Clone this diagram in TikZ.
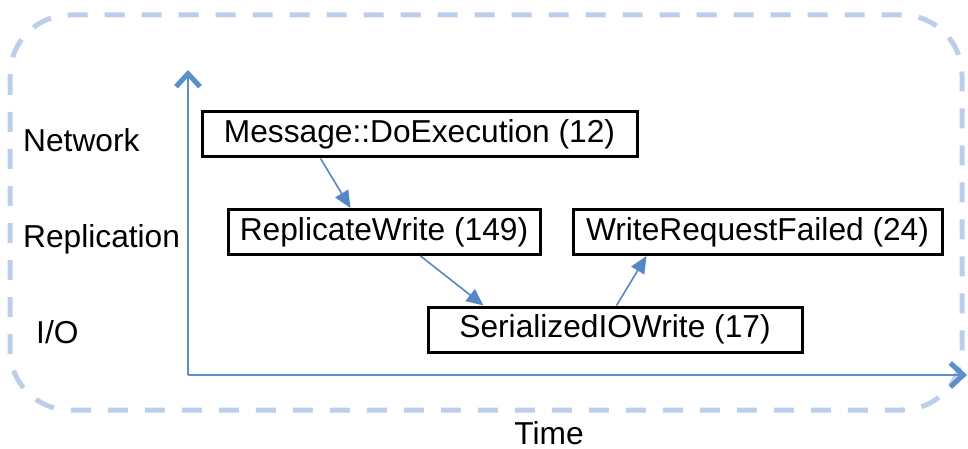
\documentclass[tikz,border=0pt]{standalone}
\usepackage{fontspec}
\setmainfont{Liberation Sans}
\usetikzlibrary{arrows.meta}
\definecolor{axisblue}{RGB}{91,143,201}
\definecolor{linkblue}{RGB}{84,135,196}
\definecolor{frameblue}{RGB}{188,206,234}
\tikzset{
  stage/.style={draw=black, line width=3pt, inner sep=0pt, minimum height=45pt,
    font=\fontsize{31.7}{38}\selectfont},
  lane/.style={anchor=base west, inner sep=0pt, font=\fontsize{31.7}{38}\selectfont},
  axisline/.style={draw=axisblue, line width=2pt,
    -{Straight Barb[length=13pt,width=24pt,line width=5pt]}},
  link/.style={draw=linkblue, line width=1.6pt, -{Triangle[length=17pt,width=15pt]}},
  frame/.style={draw=frameblue, line width=5pt, dash pattern=on 20pt off 17pt,
    rounded corners=60pt}
}
\begin{document}
\begin{tikzpicture}[x=1pt, y=-1pt]
  \useasboundingbox (0,0) rectangle (968,449);
  % dashed outer frame
  \draw[frame] (10,15) rectangle (962,410);
  % axes
  \coordinate (origin) at (188,375);
  \coordinate (ytop) at (188,70);
  \coordinate (xend) at (967,375);
  \draw[axisline] (origin) -- (ytop);
  \draw[axisline] (origin) -- (xend);
  % lane labels
  \node[lane] (net) at (23,152) {Network};
  \node[lane] (repl) at (23,247) {Replication};
  \node[lane] (io) at (36,343) {I/O};
  \node[anchor=base, inner sep=0pt, font=\fontsize{31.7}{38}\selectfont] (time) at (549,444) {Time};
  % call boxes
  \node[stage, minimum width=435pt] (msg) at (419.5,134.5) {Message::DoExecution (12)};
  \node[stage, minimum width=312pt] (rep) at (384,232) {ReplicateWrite (149)};
  \node[stage, minimum width=369pt] (wrf) at (757.5,232) {WriteRequestFailed (24)};
  \node[stage, minimum width=374pt] (ser) at (615,329.5) {SerializedIOWrite (17)};
  % connectors
  \draw[link] ([xshift=120pt]msg.south west) -- ([xshift=124pt]rep.north west);
  \draw[link] ([xshift=194pt]rep.south west) -- ([xshift=57pt]ser.north west);
  \draw[link] ([xshift=190pt]ser.north west) -- ([xshift=75pt]wrf.south west);
\end{tikzpicture}
\end{document}
